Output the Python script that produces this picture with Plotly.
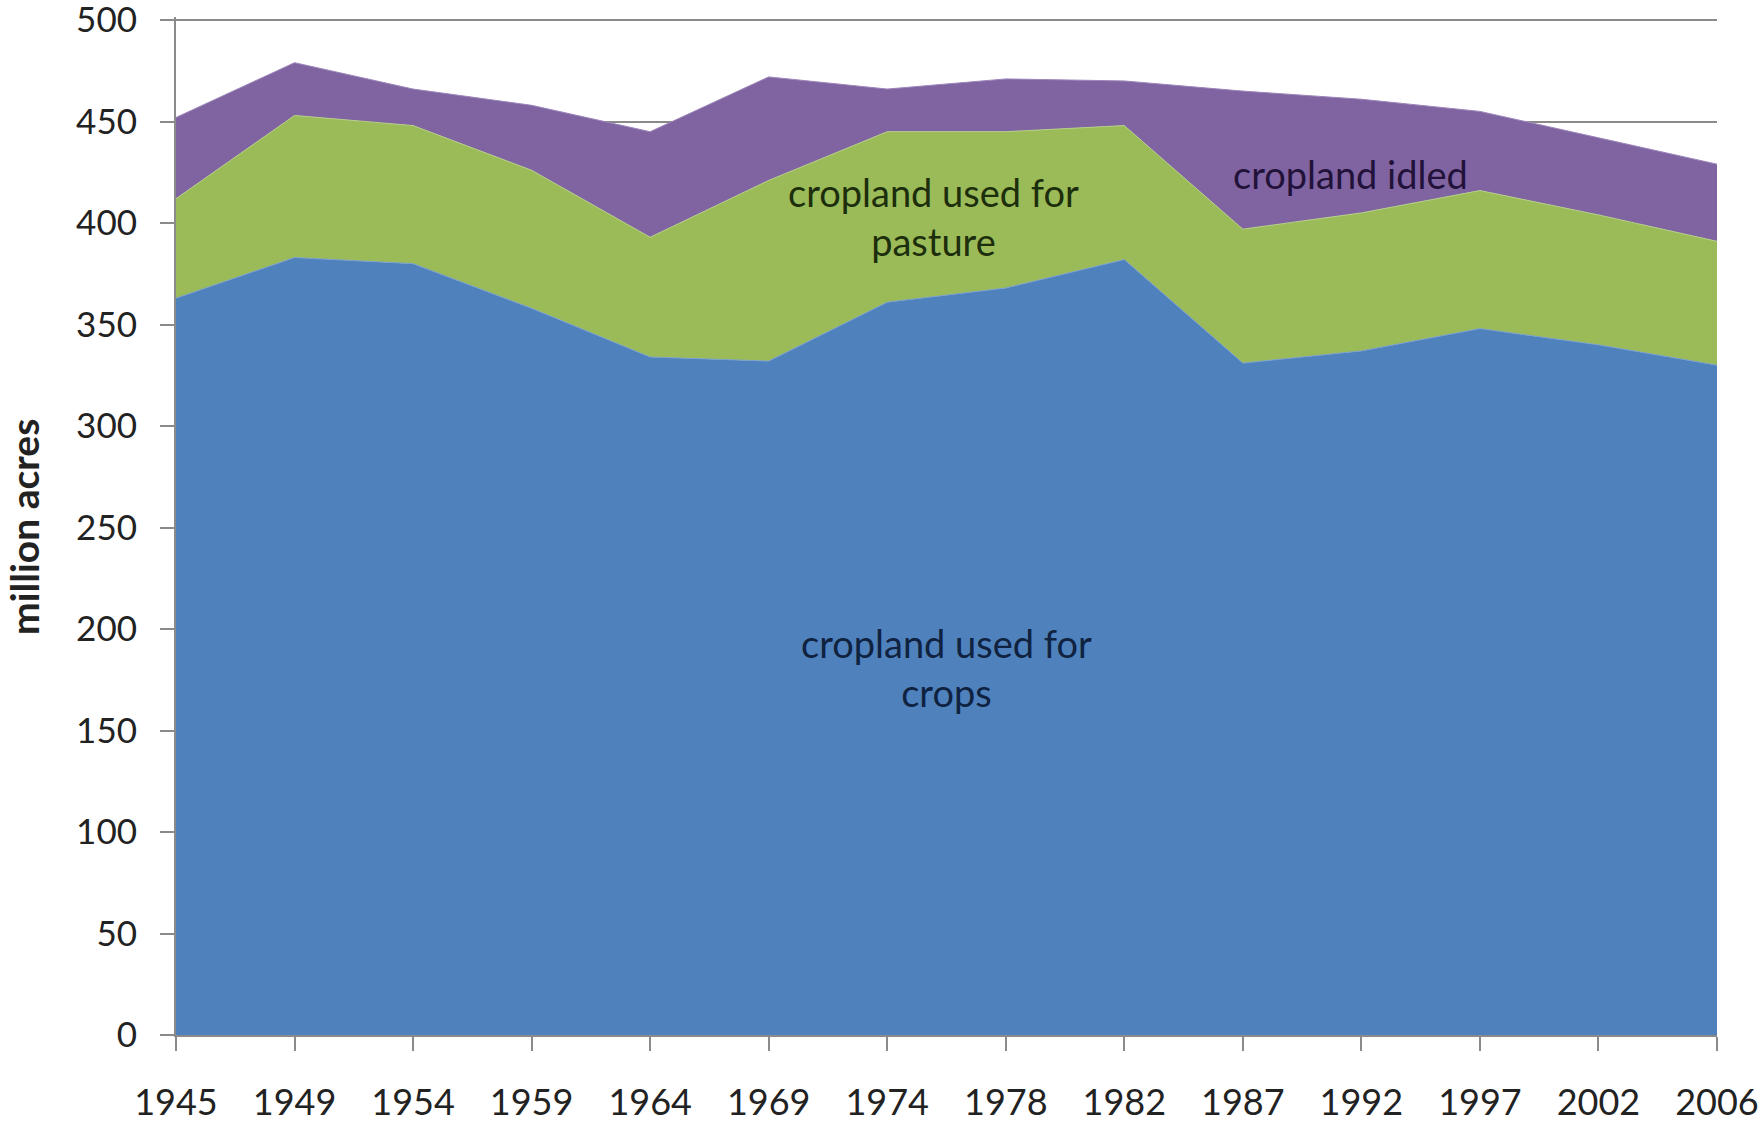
import plotly.graph_objects as go

years = ["1945", "1949", "1954", "1959", "1964", "1969", "1974",
         "1978", "1982", "1987", "1992", "1997", "2002", "2006"]
crops = [363, 383, 380, 358, 334, 332, 361, 368, 382, 331, 337, 348, 340, 330]
pasture = [49, 70, 68, 68, 59, 89, 84, 77, 66, 66, 68, 68, 64, 61]
idled = [40, 26, 18, 32, 52, 51, 21, 26, 22, 68, 56, 39, 38, 38]

series_names = ["cropland used for crops", "cropland used for pasture", "cropland idled"]
colors = ["#4F81BD", "#9BBB59", "#8064A2"]
edge_colors = ["#7A9FD0", "#B5CF85", "#9C86BA"]

FONT = "Lato, 'Open Sans', 'DejaVu Sans', sans-serif"

W, H = 1760, 1124
L, R, T, B = 176, 43, 17, 89

fig = go.Figure()
for name, vals, c, ec in zip(series_names, [crops, pasture, idled], colors, edge_colors):
    fig.add_trace(go.Scatter(
        x=years, y=vals, name=name, mode="lines",
        stackgroup="one", fillcolor=c,
        line=dict(color=ec, width=1),
        hoverinfo="skip", showlegend=False,
    ))

ann_font = dict(family=FONT, size=38)
fig.add_annotation(x=6.39, y=403, xref="x", yref="y",
                   text="cropland used for<br>pasture", showarrow=False,
                   font=dict(**ann_font, color="#1c2e0c"), align="center")
fig.add_annotation(x=6.50, y=181, xref="x", yref="y",
                   text="cropland used for<br>crops", showarrow=False,
                   font=dict(**ann_font, color="#0f2240"), align="center")
fig.add_annotation(x=9.91, y=424, xref="x", yref="y",
                   text="cropland idled", showarrow=False,
                   font=dict(**ann_font, color="#22123a"), align="center")
fig.add_annotation(x=(24 - L) / (W - L - R), xanchor="center",
                   y=(H - B - 527) / (H - T - B), yanchor="middle",
                   xref="paper", yref="paper",
                   text="<b>million acres</b>", showarrow=False, textangle=-90,
                   font=dict(family=FONT, size=39, color="#222222"))

fig.update_layout(
    width=W, height=H,
    margin=dict(l=L, r=R, t=T, b=B, autoexpand=False),
    paper_bgcolor="white", plot_bgcolor="white",
    font=dict(family=FONT, size=36, color="#222222"),
    xaxis=dict(
        type="category", range=[0, 13], automargin=False,
        showgrid=False, showline=True, linecolor="#8a8a8a", linewidth=2,
        ticks="outside", ticklen=14, tickcolor="#8a8a8a", tickwidth=2,
        ticklabelstandoff=21, tickfont=dict(size=36, color="#222222"),
        ticklabeloverflow="allow", zeroline=False,
    ),
    yaxis=dict(
        range=[0, 501.5], tickvals=list(range(0, 501, 50)), automargin=False,
        showgrid=True, gridcolor="#8a8a8a", gridwidth=2,
        showline=True, linecolor="#8a8a8a", linewidth=2,
        ticks="outside", ticklen=14, tickcolor="#8a8a8a", tickwidth=2,
        ticklabelstandoff=16, tickfont=dict(size=35, color="#222222"),
        ticklabeloverflow="allow", zeroline=False,
    ),
)

fig.write_html(
    "out.html",
    config={"displayModeBar": False, "staticPlot": True},
    post_script="document.body.style.margin='0';document.body.style.overflow='hidden';",
)
